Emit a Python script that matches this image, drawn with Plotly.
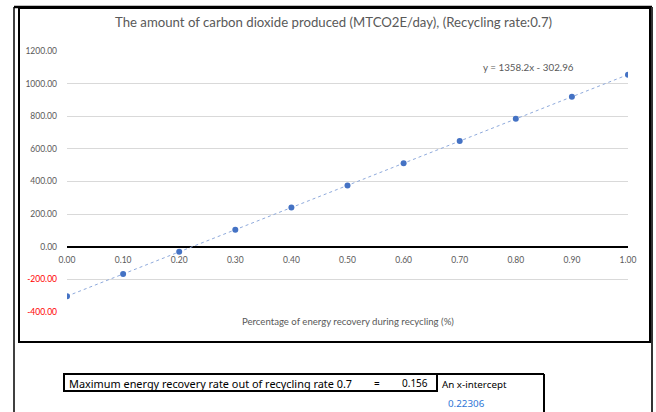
import numpy as np
import plotly.graph_objects as go

# ---- data ----
recovery = [0.0, 0.1, 0.2, 0.3, 0.4, 0.5, 0.6, 0.7, 0.8, 0.9, 1.0]
co2 = [-303, -167, -31, 104, 240, 376, 512, 648, 784, 919, 1055]
y_ticks = [-400, -200, 0, 200, 400, 600, 800, 1000, 1200]
x_ticks = [0.0, 0.1, 0.2, 0.3, 0.4, 0.5, 0.6, 0.7, 0.8, 0.9, 1.0]
title_text = "The amount of carbon dioxide produced (MTCO2E/day), (Recycling rate:0.7)"
x_title = "Percentage of energy recovery during recycling (%)"
equation = "y = 1358.2x - 302.96"
table_label = "Maximum energy recovery rate out of recycling rate 0.7"
table_value = "0.156"
intercept_label = "An x-intercept"
intercept_value = "0.22306"

# ---- layout geometry (pixels) ----
W, H = 656, 412
L, R, T, B = 67, 628, 51, 312


def px(x):
    return (x - L) / (R - L)


def py(y):
    return (B - y) / (B - T)


slope, intercept = np.polyfit(recovery, co2, 1)
trend_x = [min(recovery), max(recovery)]
trend_y = [slope * v + intercept for v in trend_x]

GRAY = "#595959"
BLUE = "#4472C4"
FONT = "Lato"

fig = go.Figure()
fig.add_trace(go.Scatter(x=trend_x, y=trend_y, mode="lines",
                         line=dict(color="#8FAADC", width=1, dash="dot"),
                         hoverinfo="skip", showlegend=False))
fig.add_trace(go.Scatter(x=recovery, y=co2, mode="markers",
                         marker=dict(color=BLUE, size=6),
                         showlegend=False))


def ylab(v):
    s = f"{v:.2f}"
    if v < 0:
        return f"<span style='color:#FF0000'>{s}</span>"
    return s


fig.update_layout(
    width=W, height=H,
    margin=dict(l=L, r=W - R, t=T, b=H - B),
    paper_bgcolor="white", plot_bgcolor="white",
    font=dict(family=FONT, color=GRAY),
    xaxis=dict(range=[0, 1], tickvals=x_ticks,
               ticktext=[f"{v:.2f}" for v in x_ticks],
               showgrid=False, zeroline=False, showline=False,
               anchor="free", position=(0 - y_ticks[0]) / (y_ticks[-1] - y_ticks[0]),
               tickfont=dict(size=8.5, color=GRAY, family=FONT), ticks="",
               ticklabelstandoff=7),
    yaxis=dict(range=[y_ticks[0], y_ticks[-1]], tickvals=y_ticks,
               ticktext=[ylab(v) for v in y_ticks],
               showgrid=True, gridcolor="#D9D9D9", gridwidth=1,
               zeroline=True, zerolinecolor="black", zerolinewidth=1.5,
               showline=False, ticks="", ticklabelstandoff=9,
               tickfont=dict(size=8.5, color=GRAY, family=FONT)),
)

ann = []
ann.append(dict(text=title_text, x=px(333), y=py(22), xref="paper", yref="paper",
                showarrow=False, font=dict(size=13.2, color=GRAY, family=FONT),
                xanchor="center", yanchor="middle"))
ann.append(dict(text=x_title, x=px(348), y=py(321), xref="paper", yref="paper",
                showarrow=False, font=dict(size=9.6, color=GRAY, family=FONT),
                xanchor="center", yanchor="middle"))
ann.append(dict(text=equation, x=px(528), y=py(67), xref="paper", yref="paper",
                showarrow=False, font=dict(size=9.8, color=GRAY, family=FONT),
                xanchor="center", yanchor="middle"))
TF = "Noto Sans"
TS = 10
ann.append(dict(text=table_label, x=px(67), y=py(383), xref="paper", yref="paper",
                showarrow=False, font=dict(size=10.9, color="black", family=TF),
                xanchor="left", yanchor="middle"))
ann.append(dict(text="=", x=px(377), y=py(383), xref="paper", yref="paper",
                showarrow=False, font=dict(size=TS, color="black", family=TF),
                xanchor="center", yanchor="middle"))
ann.append(dict(text=table_value, x=px(430), y=py(383), xref="paper", yref="paper",
                showarrow=False, font=dict(size=TS, color="black", family=TF),
                xanchor="right", yanchor="middle"))
ann.append(dict(text=intercept_label, x=px(440), y=py(384), xref="paper", yref="paper",
                showarrow=False, font=dict(size=9.8, color="black", family=TF),
                xanchor="left", yanchor="middle"))
ann.append(dict(text=intercept_value, x=px(446), y=py(404), xref="paper", yref="paper",
                showarrow=False, font=dict(size=9.8, color="#2E75D6", family=TF),
                xanchor="left", yanchor="middle"))
fig.update_layout(annotations=ann)


def seg(x0, y0, x1, y1, color="black", w=1.5):
    return dict(type="line", xref="paper", yref="paper",
                x0=px(x0), y0=py(y0), x1=px(x1), y1=py(y1),
                line=dict(color=color, width=w))


shapes = [
    seg(14, 7, 14, 415, w=1.5),
    seg(14, 7, 652, 7, w=2.5),
    seg(652, 7, 652, 415, color="#333333", w=2),
    dict(type="rect", xref="paper", yref="paper",
         x0=px(19), y0=py(8), x1=px(650), y1=py(342),
         line=dict(color="black", width=2)),
    dict(type="rect", xref="paper", yref="paper",
         x0=px(64), y0=py(374), x1=px(437), y1=py(391),
         line=dict(color="black", width=2)),
    seg(437, 374, 544, 374, w=2),
    seg(544, 374, 544, 415, w=2),
]
fig.update_layout(shapes=shapes)

fig.write_html("out.html", config={"displayModeBar": False},
               post_script="document.body.style.margin='0';document.body.style.overflow='hidden';")
